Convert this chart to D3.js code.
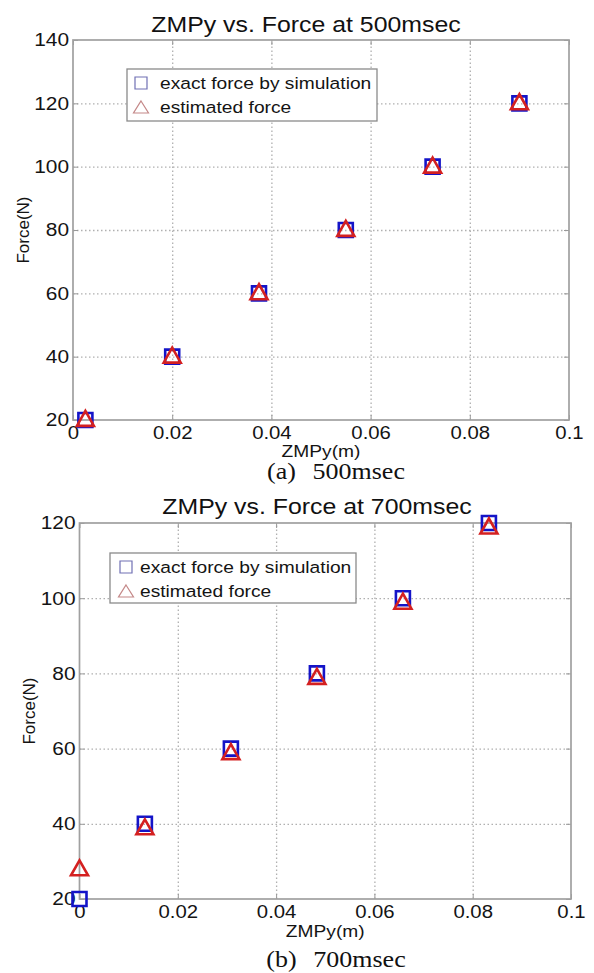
<!DOCTYPE html>
<html><head><meta charset="utf-8">
<script src="https://cdn.jsdelivr.net/npm/d3@7"></script>
<style>body{margin:0;background:#fff}svg{display:block}</style>
</head><body>
<svg id="c" width="594" height="973"></svg>
<script>
// ---- data ----
const xTicks = [0, 0.02, 0.04, 0.06, 0.08, 0.1];
const yTicks500 = [20, 40, 60, 80, 100, 120, 140];
const yTicks700 = [20, 40, 60, 80, 100, 120];
const zmp500 = [0.0025, 0.02, 0.0375, 0.055, 0.0725, 0.09];
const exact500 = [20, 40, 60, 80, 100, 120];
const est500 = [20.5, 40.5, 60.5, 80.5, 100.5, 120.5];
const zmp700 = [0, 0.0133, 0.0308, 0.0483, 0.0658, 0.0833];
const exact700 = [20, 40, 60, 80, 100, 120];
const est700 = [28.3, 39.2, 59.2, 79.2, 99.2, 119.2];
const seriesNames = ["exact force by simulation", "estimated force"];
const titles = ["ZMPy vs. Force at 500msec", "ZMPy vs. Force at 700msec"];
const captions = [["(a)", "500msec"], ["(b)", "700msec"]];
const xLabel = "ZMPy(m)";
const yLabel = "Force(N)";

// ---- layout ----
const S = 1.13; // horizontal stretch of the reference glyphs
const SANS = "'Liberation Sans', Arial, sans-serif";
const SERIF = "'Liberation Serif', 'Times New Roman', serif";
const BLUE = "#1414c8", RED = "#d42020";

const panels = [
  { l: 73, r: 569, t: 40, b: 420, yTicks: yTicks500, xs: zmp500, exact: exact500, est: est500,
    title: titles[0], titleX: 306, titleY: 32,
    leg: { x: 127, y: 69, w: 250, h: 52, mx: 141, tx: 160, rows: [83, 107] },
    xlY: 457, ylX: 29, cap: captions[0], capX: 336, capY: 479 },
  { l: 79.5, r: 571, t: 523, b: 899, yTicks: yTicks700, xs: zmp700, exact: exact700, est: est700,
    title: titles[1], titleX: 317, titleY: 514,
    leg: { x: 110, y: 553, w: 246, h: 50, mx: 126, tx: 140, rows: [567, 591] },
    xlY: 937, ylX: 35, cap: captions[1], capX: 336, capY: 967 }
];

const svg = d3.select("#c");

function sq(cx, cy, s) {
  return `M${cx - s / 2},${cy - s / 2}h${s}v${s}h${-s}Z`;
}
function tri(cx, cy, w, h) {
  return `M${cx},${cy - h / 2}L${cx + w / 2},${cy + h / 2}L${cx - w / 2},${cy + h / 2}Z`;
}
function stext(g, x, y, str, size, fam, anchor) {
  return g.append("text")
    .attr("transform", `translate(${x},${y}) scale(${S},1)`)
    .attr("text-anchor", anchor || "middle")
    .style("font-family", fam || SANS)
    .style("font-size", size + "px")
    .attr("fill", "#141414")
    .text(str);
}

panels.forEach(p => {
  const g = svg.append("g");
  const x = d3.scaleLinear().domain([0, 0.1]).range([p.l, p.r]);
  const y = d3.scaleLinear().domain([p.yTicks[0], p.yTicks[p.yTicks.length - 1]]).range([p.b, p.t]);
  const w = p.r - p.l, h = p.b - p.t;

  // grid
  g.append("g").attr("transform", `translate(0,${p.b})`)
    .call(d3.axisBottom(x).tickValues(xTicks.slice(1, -1)).tickSize(-h).tickFormat(""))
    .call(a => a.select(".domain").remove())
    .selectAll("line").attr("stroke", "#b0b0b0").attr("stroke-width", 1.3).attr("stroke-dasharray", "1.5,2.5");
  g.append("g").attr("transform", `translate(${p.l},0)`)
    .call(d3.axisLeft(y).tickValues(p.yTicks.slice(1, -1)).tickSize(-w).tickFormat(""))
    .call(a => a.select(".domain").remove())
    .selectAll("line").attr("stroke", "#b0b0b0").attr("stroke-width", 1.3).attr("stroke-dasharray", "1.5,2.5");

  // inward tick marks
  g.append("g").attr("transform", `translate(0,${p.b})`)
    .call(d3.axisTop(x).tickValues(xTicks).tickSizeInner(5).tickSizeOuter(0).tickFormat(""))
    .call(a => a.select(".domain").remove())
    .selectAll("line").attr("stroke", "#999");
  g.append("g").attr("transform", `translate(0,${p.t})`)
    .call(d3.axisBottom(x).tickValues(xTicks).tickSizeInner(5).tickSizeOuter(0).tickFormat(""))
    .call(a => a.select(".domain").remove())
    .selectAll("line").attr("stroke", "#999");
  g.append("g").attr("transform", `translate(${p.l},0)`)
    .call(d3.axisRight(y).tickValues(p.yTicks).tickSizeInner(5).tickSizeOuter(0).tickFormat(""))
    .call(a => a.select(".domain").remove())
    .selectAll("line").attr("stroke", "#999");
  g.append("g").attr("transform", `translate(${p.r},0)`)
    .call(d3.axisLeft(y).tickValues(p.yTicks).tickSizeInner(5).tickSizeOuter(0).tickFormat(""))
    .call(a => a.select(".domain").remove())
    .selectAll("line").attr("stroke", "#999");

  // border
  g.append("rect").attr("x", p.l).attr("y", p.t).attr("width", w).attr("height", h)
    .attr("fill", "none").attr("stroke", "#a0a0a0").attr("stroke-width", 1.7);

  // tick labels
  const fmtX = d => d === 0 ? "0" : String(+d.toFixed(2));
  g.append("g").attr("transform", `translate(0,${p.b})`)
    .call(d3.axisBottom(x).tickValues(xTicks).tickSize(0).tickPadding(6.5).tickFormat(fmtX))
    .call(a => a.select(".domain").remove())
    .selectAll("text").attr("transform", `scale(${S},1)`).attr("fill", "#141414")
    .style("font-family", SANS).style("font-size", "18px");
  g.append("g").attr("transform", `translate(${p.l},0)`)
    .call(d3.axisLeft(y).tickValues(p.yTicks).tickSize(0).tickPadding(3.5).tickFormat(d3.format("d")))
    .call(a => a.select(".domain").remove())
    .selectAll("text").attr("transform", `scale(${S},1)`).attr("fill", "#141414")
    .style("font-family", SANS).style("font-size", "18.5px");

  // data markers
  const pts = p.xs.map((v, i) => ({ x: v, e: p.exact[i], s: p.est[i] }));
  g.append("g").selectAll("path").data(pts).join("path")
    .attr("d", d => sq(x(d.x), y(d.e), 14))
    .attr("fill", "none").attr("stroke", BLUE).attr("stroke-width", 2.6);
  g.append("g").selectAll("path").data(pts).join("path")
    .attr("d", d => tri(x(d.x), y(d.s), 17, 15))
    .attr("fill", "none").attr("stroke", RED).attr("stroke-width", 2.6).attr("stroke-linejoin", "miter");

  // title
  stext(g, p.titleX, p.titleY, p.title, 22).attr("fill", "#111");

  // legend
  const L = p.leg;
  g.append("rect").attr("x", L.x).attr("y", L.y).attr("width", L.w).attr("height", L.h)
    .attr("fill", "#fff").attr("stroke", "#8a8a8a").attr("stroke-width", 1.3);
  g.append("path").attr("d", sq(L.mx, L.rows[0], 12)).attr("fill", "none").attr("stroke", "#7070b4").attr("stroke-width", 1.2);
  g.append("path").attr("d", tri(L.mx, L.rows[1], 15, 12)).attr("fill", "none").attr("stroke", "#c48888").attr("stroke-width", 1.2);
  seriesNames.forEach((n, i) => {
    stext(g, L.tx, L.rows[i] + 6, n, 17, SANS, "start");
  });

  // axis labels
  stext(g, (p.l + p.r) / 2, p.xlY, xLabel, 17);
  g.append("text")
    .attr("transform", `translate(${p.ylX},${(p.t + p.b) / 2}) rotate(-90)`)
    .attr("text-anchor", "middle").style("font-family", SANS).style("font-size", "17px")
    .attr("fill", "#141414").text(yLabel);

  // caption
  const c = g.append("text")
    .attr("transform", `translate(${p.capX},${p.capY}) scale(${S},1)`)
    .attr("text-anchor", "middle").style("font-family", SERIF).style("font-size", "23px")
    .attr("fill", "#111");
  c.append("tspan").text(p.cap[0] + " ");
  c.append("tspan").attr("dx", 9).text(p.cap[1]);
});
</script>
</body></html>
